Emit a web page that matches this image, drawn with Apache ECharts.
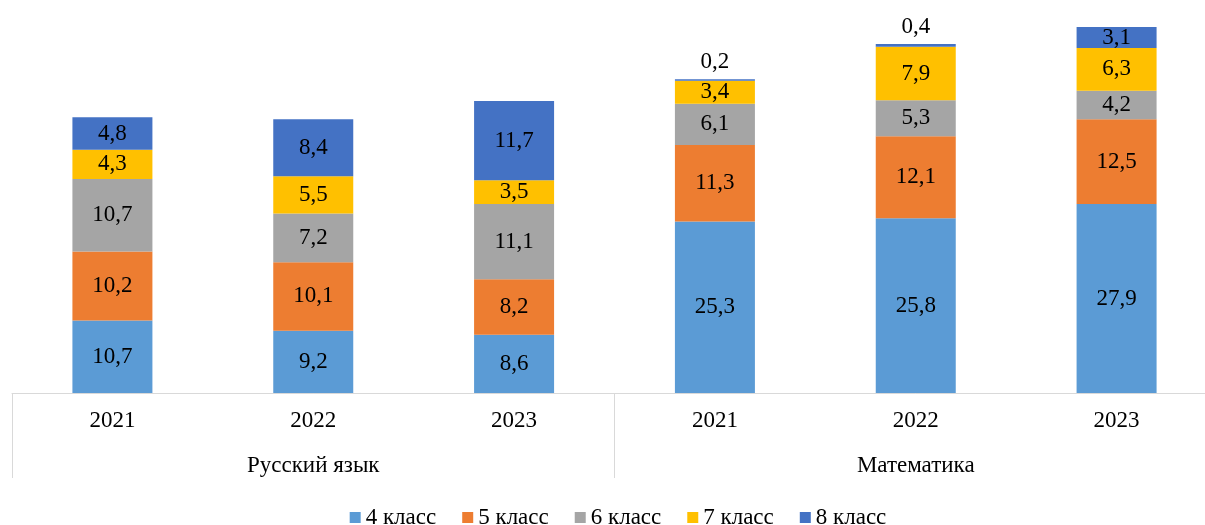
<!DOCTYPE html>
<html><head><meta charset="utf-8">
<script src="https://cdn.jsdelivr.net/npm/echarts@6/dist/echarts.min.js"></script>
<style>html,body{margin:0;padding:0;background:#fff;overflow:hidden}#c{width:1236px;height:525px}</style>
</head><body><div id="c"></div>
<script>
const years = ['2021','2022','2023','2021','2022','2023'];
const subjects = ['Русский язык','Математика'];
const seriesNames = ['4 класс','5 класс','6 класс','7 класс','8 класс'];
const colors = ['#5B9BD5','#ED7D31','#A5A5A5','#FFC000','#4472C4'];
const grade4 = [10.7, 9.2, 8.6, 25.3, 25.8, 27.9];
const grade5 = [10.2, 10.1, 8.2, 11.3, 12.1, 12.5];
const grade6 = [10.7, 7.2, 11.1, 6.1, 5.3, 4.2];
const grade7 = [4.3, 5.5, 3.5, 3.4, 7.9, 6.3];
const grade8 = [4.8, 8.4, 11.7, 0.2, 0.4, 3.1];
const allData = [grade4, grade5, grade6, grade7, grade8];

const font = '"Liberation Serif","Times New Roman",serif';
const fmt = v => String(v).replace('.', ',');

const chart = echarts.init(document.getElementById('c'));
chart.setOption({
  animation: false,
  textStyle: { fontFamily: font },
  grid: { left: 12, width: 1205, top: 0, bottom: 132, containLabel: false },
  xAxis: [
    { type: 'category', data: years, position: 'bottom',
      axisLine: { show: true, lineStyle: { color: '#d9d9d9', width: 1 } },
      axisTick: { show: false },
      axisLabel: { margin: 16, fontSize: 23, color: '#000', fontFamily: font } },
    { type: 'category', data: subjects, position: 'bottom',
      axisLine: { show: false },
      axisTick: { show: true, length: 85, lineStyle: { color: '#d9d9d9', width: 1 } },
      axisLabel: { margin: 61, fontSize: 23, color: '#000', fontFamily: font } }
  ],
  yAxis: { type: 'value', min: 0, max: 58, show: false, splitLine: { show: false } },
  legend: {
    top: 501, left: 'center', icon: 'rect', itemWidth: 11, itemHeight: 11, itemGap: 26,
    textStyle: { fontSize: 23, color: '#000', fontFamily: font },
    data: seriesNames
  },
  series: seriesNames.map((n, i) => ({
    name: n, type: 'bar', stack: 'all', xAxisIndex: 0, barWidth: 80,
    itemStyle: { color: colors[i] },
    data: allData[i].map(v => v < 1
      ? { value: v, label: { position: 'top', distance: 6 } }
      : v),
    label: { show: true, position: 'inside', fontSize: 23, color: '#000', fontFamily: font,
      formatter: p => fmt(p.value) }
  }))
});
</script></body></html>
